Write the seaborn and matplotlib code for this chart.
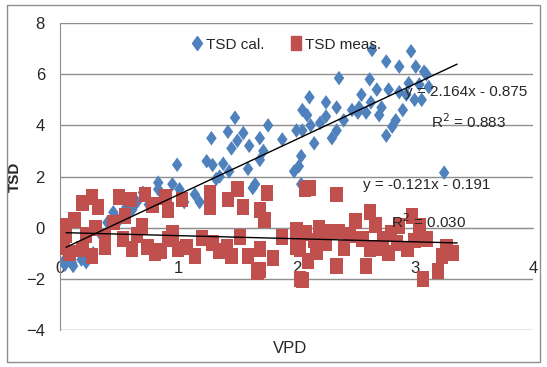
import numpy as np
import pandas as pd
import seaborn as sns
import matplotlib.pyplot as plt
from matplotlib.lines import Line2D
from matplotlib.patches import Rectangle

# TSD cal. (blue diamonds)
cal_vpd = [0.04, 0.04, 0.10, 0.11, 0.18, 0.22, 0.25, 0.28, 0.35, 0.40, 0.45, 0.46, 0.50,
           0.56, 0.61, 0.65, 0.70, 0.75, 0.83, 0.83, 0.90, 0.95, 0.99, 1.01, 1.05, 1.14,
           1.18, 1.24, 1.28, 1.29, 1.32, 1.35, 1.38, 1.42, 1.43, 1.45, 1.48, 1.50, 1.55,
           1.59, 1.60, 1.63, 1.65, 1.69, 1.69, 1.72, 1.76, 1.88, 1.98, 2.00, 2.02, 2.04,
           2.04, 2.05, 2.05, 2.09, 2.11, 2.12, 2.15, 2.20, 2.25, 2.25, 2.30, 2.34, 2.34,
           2.36, 2.40, 2.47, 2.52, 2.53, 2.55, 2.59, 2.62, 2.63, 2.64, 2.68, 2.70, 2.72,
           2.76, 2.76, 2.78, 2.81, 2.84, 2.87, 2.87, 2.90, 2.93, 2.95, 2.97, 3.00, 3.01,
           3.04, 3.06, 3.08, 3.10, 3.12, 3.25]
cal_tsd = [-1.25, -1.45, -1.37, -1.50, -1.25, -1.35, -1.10, -1.00, -0.30, 0.20, 0.60, 0.43, 0.30,
           0.80, 0.70, 1.00, 1.37, 0.90, 1.50, 1.76, 1.20, 1.70, 2.46, 1.50, 1.00, 1.30,
           1.00, 2.60, 3.50, 2.45, 1.90, 2.00, 2.50, 3.75, 2.20, 3.10, 4.30, 3.40, 3.70,
           2.30, 3.20, 1.55, 1.70, 3.50, 2.65, 3.00, 4.00, 3.45, 2.20, 3.80, 2.40, 2.80,
           1.70, 4.60, 3.80, 4.40, 5.10, 4.00, 3.30, 4.10, 4.90, 4.35, 3.50, 4.70, 3.80,
           5.85, 4.20, 4.60, 4.50, 4.70, 5.20, 4.50, 5.80, 4.90, 6.95, 5.40, 4.40, 4.70,
           6.50, 3.60, 5.40, 3.95, 4.20, 6.30, 5.30, 4.60, 5.20, 5.65, 6.90, 5.00, 6.30,
           5.60, 5.00, 6.10, 6.00, 5.50, 2.15]

# TSD meas. (red squares)
meas_vpd = [0.03, 0.03, 0.05, 0.08, 0.12, 0.19, 0.27, 0.32, 0.19, 0.27, 0.38, 0.38, 0.22,
            0.30, 0.45, 0.50, 0.55, 0.53, 0.61, 0.69, 0.74, 0.80, 0.89, 0.91, 0.91, 1.00,
            0.60, 0.65, 0.78, 0.72, 0.85, 0.95, 1.03, 1.07, 1.14, 1.27, 1.27, 1.29, 1.41,
            1.42, 1.45, 1.50, 1.52, 1.55, 1.59, 1.69, 1.69, 1.69, 1.73, 1.75, 1.88, 2.01,
            2.00, 2.07, 2.11, 2.34, 2.00, 2.08, 2.19, 2.28, 2.36, 2.03, 2.03, 2.17, 2.34,
            2.50, 2.62, 2.67, 2.56, 2.73, 2.62, 2.59, 2.78, 2.87, 2.98, 3.04, 3.10, 3.07,
            2.94, 3.23, 3.27, 3.32, 3.20, 2.05, 2.15, 2.25, 2.45, 2.80, 2.85, 2.70, 3.00,
            1.20, 1.35, 1.80, 2.10, 2.40, 1.67]
meas_tsd = [0.05, -0.75, -0.30, -1.00, 0.30, 0.95, 1.20, 0.80, -0.85, -1.10, -0.35, -0.75, -0.30,
            0.00, 0.20, 1.20, 0.45, -0.45, -0.85, 0.05, -0.75, -1.00, 1.20, 0.70, -0.45, -0.85,
            1.10, -0.30, 0.90, 1.30, -0.90, -0.20, 1.10, -0.75, -1.10, 1.37, 0.80, -0.60, -0.75,
            1.10, -1.10, 1.50, -0.35, 0.80, -1.10, 0.70, -0.85, -1.65, 0.30, 1.37, -0.35, -0.20,
            -0.75, 1.50, 1.55, 1.30, -0.10, -0.20, 0.00, -0.15, -0.15, -0.85, -2.00, -0.95, -1.50,
            0.25, 0.60, 0.10, -0.45, -0.45, -0.85, -1.50, -1.00, 0.05, 0.45, 0.05, -0.45, -2.00,
            -0.85, -1.10, -0.75, -1.00, -1.70, -2.05, -0.50, -0.60, -0.30, -0.20, -0.60, -0.80, -0.50,
            -0.40, -0.90, -1.20, -1.30, -0.80, -1.75]

# trendline coefficients as printed on the chart
cal_fit = (2.164, -0.875, "0.883")
meas_fit = (-0.121, -0.191, "0.030")
fit_range = [0.05, 3.36]

x_ticks = [0, 1, 2, 3, 4]
y_ticks = [-4, -2, 0, 2, 4, 6, 8]

BLUE = "#4F81BD"
RED = "#C0504D"
GRID = "#8E8E8E"
FS = 11

diamond = [(0, 1), (0.72, 0), (0, -1), (-0.72, 0), (0, 1)]
square = [(-0.78, -1), (0.78, -1), (0.78, 1), (-0.78, 1), (-0.78, -1)]

sns.set_style("white")
plt.rcParams['font.family'] = ['Liberation Sans', 'DejaVu Sans']

cal = pd.DataFrame({"VPD": cal_vpd, "TSD": cal_tsd})
meas = pd.DataFrame({"VPD": meas_vpd, "TSD": meas_tsd})

fig = plt.figure(figsize=(5.47, 3.67), dpi=100)
ax = fig.add_axes([0.11, 0.101, 0.864, 0.836])

ax.set_xlim(0, 4)
ax.set_ylim(-4, 8)
ax.set_yticks(y_ticks)
ax.set_xticks(x_ticks)
ax.yaxis.grid(True, color=GRID, linewidth=1)
ax.set_axisbelow(True)

sns.scatterplot(data=cal, x="VPD", y="TSD", marker=diamond, s=110, color=BLUE,
                edgecolor="none", ax=ax, zorder=3)
sns.scatterplot(data=meas, x="VPD", y="TSD", marker=square, s=130, color=RED,
                edgecolor="none", ax=ax, zorder=4)

# linear trendlines
xs = np.array(fit_range)
for slope, icpt, r2 in (cal_fit, meas_fit):
    ax.plot(xs, slope * xs + icpt, color="black", linewidth=1, zorder=5)

ax.text(3.44, 5.3, "y = 2.164x - 0.875", fontsize=FS, ha="center", va="center", zorder=6)
ax.text(3.46, 4.15, "R$^2$ = " + cal_fit[2], fontsize=FS, ha="center", va="center", zorder=6)
ax.text(3.10, 1.65, "y = -0.121x - 0.191", fontsize=FS, ha="center", va="center", zorder=6)
ax.text(3.12, 0.23, "R$^2$ = " + meas_fit[2], fontsize=FS, ha="center", va="center", zorder=6)

for side in ["top", "right"]:
    ax.spines[side].set_visible(False)
ax.spines["bottom"].set_position(("data", 0))
ax.spines["bottom"].set_color(GRID)
ax.spines["left"].set_color(GRID)
ax.tick_params(axis="y", length=4, color=GRID, pad=7, labelsize=FS + 1)
ax.tick_params(axis="x", length=4, color=GRID, pad=20, labelsize=FS + 1)

ax.set_xlabel("VPD", fontsize=FS + 1)
ax.xaxis.set_label_coords(0.486, -0.035)
ax.set_ylabel("TSD", fontsize=11, fontweight="bold")
ax.yaxis.set_label_coords(-0.08, 0.5)

handles = [
    Line2D([], [], linestyle="none", marker=diamond, markersize=10, color=BLUE, label="TSD cal."),
    Line2D([], [], linestyle="none", marker=square, markersize=10, color=RED, label="TSD meas."),
]
ax.legend(handles=handles, loc="center", bbox_to_anchor=(0.476, 0.93), ncol=2, frameon=False,
          fontsize=FS, handletextpad=0.1, columnspacing=1.6, handlelength=1)

fig.patches.append(Rectangle((0.013, 0.014), 0.974, 0.973, transform=fig.transFigure,
                             fill=False, edgecolor=GRID, linewidth=1))

fig.savefig("out.png", dpi=100)
